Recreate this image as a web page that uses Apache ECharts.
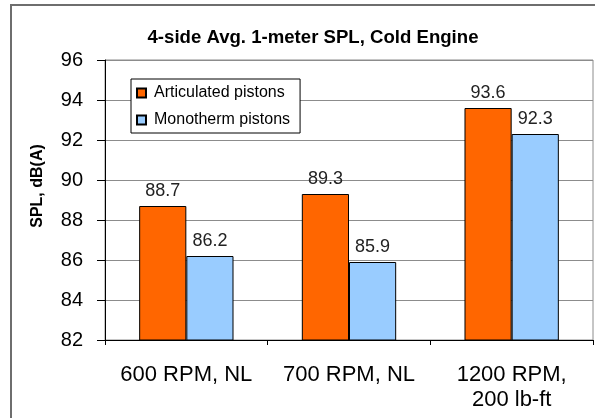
<!DOCTYPE html>
<html>
<head>
<meta charset="utf-8">
<script src="https://cdn.jsdelivr.net/npm/echarts@6/dist/echarts.min.js"></script>
<style>
  html, body { margin: 0; padding: 0; background: #fff; }
  #chart { width: 595px; height: 418px; }
</style>
</head>
<body>
<div id="chart"></div>
<script>
const titleText = '4-side Avg. 1-meter SPL, Cold Engine';
const yAxisTitle = 'SPL, dB(A)';
const categories = ['600 RPM, NL', '700 RPM, NL', '1200 RPM,\n200 lb-ft'];
const seriesNames = ['Articulated pistons', 'Monotherm pistons'];
const articulated = [88.7, 89.3, 93.6];
const monotherm = [86.2, 85.9, 92.3];
const yMin = 82, yMax = 96, yStep = 2;

const FONT = '"Liberation Sans", Arial, sans-serif';
const chart = echarts.init(document.getElementById('chart'), null, { renderer: 'canvas' });

const labelCfg = {
  show: true,
  position: 'top',
  distance: 6,
  color: '#222',
  fontFamily: FONT,
  fontSize: 18,
  formatter: p => p.value.toFixed(1)
};

chart.setOption({
  animation: false,
  backgroundColor: '#fff',
  title: {
    text: titleText,
    left: 308,
    top: 23,
    textAlign: 'center',
    textStyle: { fontFamily: FONT, fontSize: 18.6, fontWeight: 'bold', color: '#000' }
  },
  graphic: [
    {
      type: 'rect',
      shape: { x: 11, y: 5, width: 620, height: 440 },
      style: { fill: null, stroke: '#6e6e6e', lineWidth: 2 },
      silent: true,
      z: 100
    },
    {
      type: 'text',
      x: 38,
      y: 186,
      rotation: Math.PI / 2,
      style: {
        text: yAxisTitle,
        font: 'bold 16px ' + FONT,
        fill: '#000',
        textAlign: 'center',
        textVerticalAlign: 'middle'
      }
    }
  ],
  legend: {
    orient: 'vertical',
    left: 131,
    top: 79,
    data: seriesNames,
    icon: 'rect',
    itemWidth: 9,
    itemHeight: 9,
    itemGap: 11,
    padding: [6, 10, 5, 5],
    borderColor: '#000',
    borderWidth: 1,
    backgroundColor: '#fff',
    textStyle: { fontFamily: FONT, fontSize: 16, color: '#000', padding: [0, 0, 0, 3] }
  },
  grid: {
    left: 105,
    top: 60,
    right: 2,
    bottom: 78,
    show: true,
    borderColor: '#8c8c8c',
    borderWidth: 1,
    backgroundColor: '#fff'
  },
  xAxis: {
    type: 'category',
    data: categories,
    axisLine: { show: true, lineStyle: { color: '#000', width: 1 } },
    axisTick: { show: true, length: 5, alignWithLabel: false, lineStyle: { color: '#000' } },
    axisLabel: {
      fontFamily: FONT,
      fontSize: 22,
      lineHeight: 25,
      color: '#000',
      margin: 22,
      interval: 0
    },
    splitLine: { show: false }
  },
  yAxis: {
    type: 'value',
    min: yMin,
    max: yMax,
    interval: yStep,
    axisLine: { show: true, lineStyle: { color: '#000', width: 1 } },
    axisTick: { show: true, length: 8, lineStyle: { color: '#000' } },
    axisLabel: { fontFamily: FONT, fontSize: 20, color: '#000', margin: 22 },
    splitLine: { show: true, lineStyle: { color: '#8c8c8c', width: 1 } }
  },
  series: [
    {
      name: seriesNames[0],
      type: 'bar',
      data: articulated,
      barGap: '0%',
      barCategoryGap: '42%',
      itemStyle: { color: '#FF6600', borderColor: '#000', borderWidth: 1 },
      label: labelCfg
    },
    {
      name: seriesNames[1],
      type: 'bar',
      data: monotherm,
      barGap: '0%',
      barCategoryGap: '42%',
      itemStyle: { color: '#99CCFF', borderColor: '#000', borderWidth: 1 },
      label: labelCfg
    }
  ]
});
</script>
</body>
</html>
